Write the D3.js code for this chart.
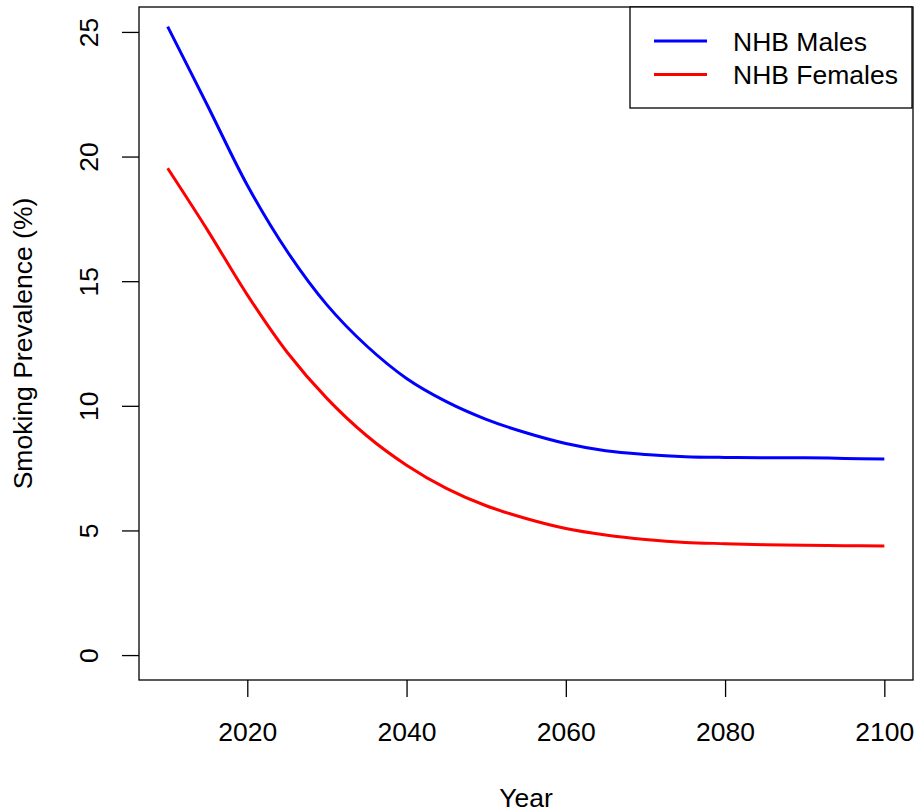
<!DOCTYPE html>
<html>
<head>
<meta charset="utf-8">
<script src="https://cdn.jsdelivr.net/npm/d3@7"></script>
<style>
  body { margin: 0; background: #fff; }
  text { font-family: "Liberation Sans", Arial, sans-serif; fill: #000; }
</style>
</head>
<body>
<svg id="chart" width="917" height="812"></svg>
<script>
// values
const years = [2010, 2015, 2020, 2025, 2030, 2035, 2040, 2045, 2050, 2055, 2060,
  2065, 2070, 2075, 2080, 2085, 2090, 2095, 2100];
const males = [25.21, 22.05, 18.85, 16.2, 14.05, 12.4, 11.1, 10.17, 9.46, 8.92, 8.49,
  8.2, 8.05, 7.96, 7.93, 7.92, 7.92, 7.89, 7.87];
const females = [19.53, 17.05, 14.45, 12.15, 10.3, 8.8, 7.62, 6.69, 5.99, 5.48, 5.08,
  4.82, 4.64, 4.52, 4.47, 4.43, 4.41, 4.39, 4.38];
const xTicks = [2020, 2040, 2060, 2080, 2100];
const yTicks = [0, 5, 10, 15, 20, 25];
const seriesNames = ['NHB Males', 'NHB Females'];
const seriesColors = ['#0000ff', '#ff0000'];

const svg = d3.select('#chart');
const plotL = 139, plotR = 913, plotT = 7, plotB = 680;
const fontSize = 26.5;

// R style 4% padding on both axes
const x = d3.scaleLinear().domain([2006.4, 2103.6]).range([plotL, plotR]);
const y = d3.scaleLinear().domain([-1, 26]).range([plotB, plotT]);

const line = d3.line()
  .x(d => x(d[0]))
  .y(d => y(d[1]))
  .curve(d3.curveCatmullRom.alpha(0.5));

[males, females].forEach((vals, i) => {
  svg.append('path')
    .datum(years.map((yr, j) => [yr, vals[j]]))
    .attr('fill', 'none')
    .attr('stroke', seriesColors[i])
    .attr('stroke-width', 3)
    .attr('d', line);
});

// box
svg.append('rect')
  .attr('x', plotL).attr('y', plotT)
  .attr('width', plotR - plotL).attr('height', plotB - plotT)
  .attr('fill', 'none').attr('stroke', '#000').attr('stroke-width', 1.3);

// x axis
const xAxis = svg.append('g')
  .attr('transform', `translate(0,${plotB})`)
  .call(d3.axisBottom(x).tickValues(xTicks).tickSize(17).tickPadding(0).tickFormat(d3.format('d')));
xAxis.select('.domain').remove();
xAxis.selectAll('line').attr('stroke-width', 1.3);
xAxis.selectAll('text')
  .attr('y', 0).attr('dy', null)
  .attr('transform', 'translate(0,61)')
  .style('font-size', fontSize + 'px');

// y axis
const yAxis = svg.append('g')
  .attr('transform', `translate(${plotL},0)`)
  .call(d3.axisLeft(y).tickValues(yTicks).tickSize(17).tickFormat(d3.format('d')));
yAxis.select('.domain').remove();
yAxis.selectAll('line').attr('stroke-width', 1.3);
yAxis.selectAll('text')
  .attr('x', 0).attr('dy', null)
  .attr('text-anchor', 'middle')
  .attr('transform', 'translate(-41,0) rotate(-90)')
  .style('font-size', fontSize + 'px');

// axis titles
svg.append('text')
  .attr('x', (plotL + plotR) / 2).attr('y', 807)
  .attr('text-anchor', 'middle')
  .style('font-size', fontSize + 'px')
  .text('Year');

svg.append('text')
  .attr('transform', `translate(32,${(plotT + plotB) / 2}) rotate(-90)`)
  .attr('text-anchor', 'middle')
  .style('font-size', fontSize + 'px')
  .text('Smoking Prevalence (%)');

// legend
const legend = svg.append('g');
legend.append('rect')
  .attr('x', 630).attr('y', plotT)
  .attr('width', 912 - 630).attr('height', 108 - plotT)
  .attr('fill', '#fff').attr('stroke', '#000').attr('stroke-width', 1.3);

seriesNames.forEach((name, i) => {
  const ly = 41 + i * 33.5;
  legend.append('line')
    .attr('x1', 654).attr('x2', 707)
    .attr('y1', ly).attr('y2', ly)
    .attr('stroke', seriesColors[i]).attr('stroke-width', 3);
  legend.append('text')
    .attr('x', 733).attr('y', ly + 9.5)
    .style('font-size', fontSize + 'px')
    .text(name);
});
</script>
</body>
</html>
